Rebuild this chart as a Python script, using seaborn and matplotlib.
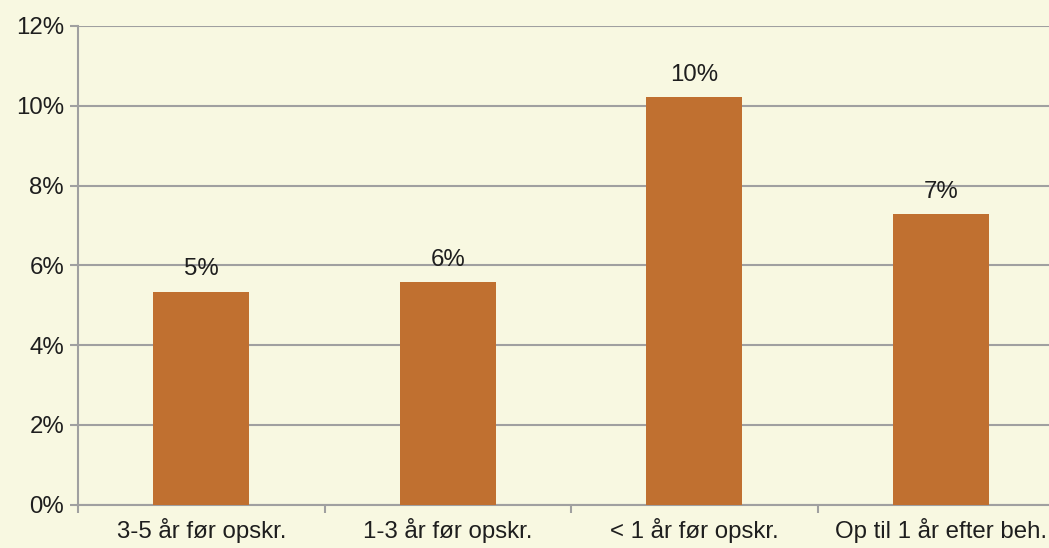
import pandas as pd
import seaborn as sns
import matplotlib.pyplot as plt
from matplotlib.ticker import FuncFormatter

categories = ['3-5 år før opskr.', '1-3 år før opskr.', '< 1 år før opskr.', 'Op til 1 år efter beh.']
values = [5.34, 5.58, 10.21, 7.29]
labels = ['5%', '6%', '10%', '7%']

df = pd.DataFrame({'periode': categories, 'andel': values})

bg = '#F8F8E1'
bar_color = '#C07030'
grey = '#A0A0A0'
text_color = '#1E1E1E'
fs = 17.3

sns.set_style('white')
plt.rcParams['font.family'] = ['Liberation Sans', 'DejaVu Sans']

fig = plt.figure(figsize=(10.49, 5.48), dpi=100, facecolor=bg)
ax = fig.add_axes([78 / 1049, 43.5 / 548, 986 / 1049, 478.5 / 548])
ax.set_facecolor(bg)

sns.barplot(data=df, x='periode', y='andel', color=bar_color, saturation=1,
            width=0.39, linewidth=0, ax=ax, zorder=3)

ax.bar_label(ax.containers[0], labels=labels, padding=8, fontsize=fs, color=text_color)

ax.set_ylim(0, 12)
ax.set_yticks(range(0, 13, 2))
ax.yaxis.set_major_formatter(FuncFormatter(lambda v, p: f'{int(v)}%'))
ax.set_xlim(-0.5, 3.5)
ax.set_xlabel('')
ax.set_ylabel('')

# gridlines
ax.grid(axis='y', color=grey, linewidth=1.5, zorder=0)
ax.set_axisbelow(True)

for s in ['top', 'right']:
    ax.spines[s].set_visible(False)
for s in ['left', 'bottom']:
    ax.spines[s].set_color(grey)
    ax.spines[s].set_linewidth(1.5)

ax.tick_params(axis='y', length=6, width=1.5, color=grey, labelsize=fs,
               labelcolor=text_color, pad=4, left=True)
ax.tick_params(axis='x', which='major', length=0, labelsize=fs,
               labelcolor=text_color, pad=10)
ax.set_xticks([-0.5, 0.5, 1.5, 2.5, 3.5], minor=True)
ax.tick_params(axis='x', which='minor', length=6, width=1.5, color=grey, bottom=True)

fig.savefig('out.png', dpi=100, facecolor=bg)
